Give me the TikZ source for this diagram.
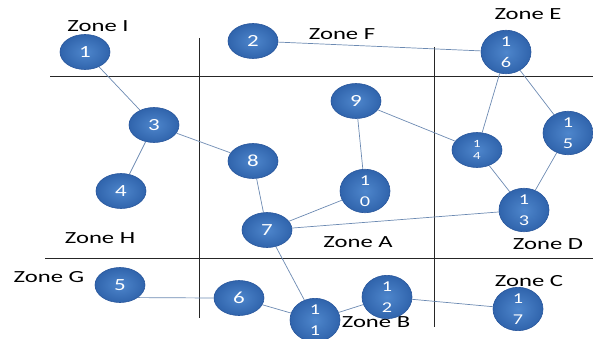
\documentclass[tikz,border=0pt]{standalone}
\usepackage{fontspec}
\setmainfont{Carlito}
\newfontfamily\zonefont[FakeStretch=1.45]{Carlito}
\newfontfamily\numfont[FakeStretch=1.35]{Carlito}
\usetikzlibrary{shapes.geometric}

\definecolor{nodeblue}{RGB}{48,100,172}
\definecolor{nodelight}{RGB}{78,134,204}
\definecolor{noderim}{RGB}{40,86,156}
\definecolor{linkcol}{RGB}{108,138,178}

\tikzset{
  station/.style={ellipse, minimum width=50pt, minimum height=35pt, inner sep=0pt,
    draw=noderim, line width=0.6pt, shading=radial, inner color=nodelight, outer color=nodeblue,
    text=white, align=center, font=\numfont\fontsize{17}{17}\selectfont},
  twodigit/.style={font=\numfont\fontsize{15}{21}\selectfont},
  smalldigit/.style={font=\numfont\fontsize{11}{12}\selectfont},
  zone/.style={text=black, inner sep=0pt, font=\zonefont\fontsize{17}{17}\selectfont},
  divider/.style={draw=black!85, line width=0.8pt},
  link/.style={draw=linkcol, line width=0.7pt}
}

\begin{document}
\begin{tikzpicture}[x=1pt, y=-1pt]
\useasboundingbox (0,0) rectangle (593,339);

% zone dividers
\coordinate (hTopL) at (50,76);   \coordinate (hTopR) at (593,76);
\coordinate (hBotL) at (45,258);  \coordinate (hBotR) at (593,258);
\coordinate (vLeftT) at (199,38); \coordinate (vLeftB) at (199,318);
\coordinate (vRightT) at (434,47);\coordinate (vRightB) at (434,327);
\draw[divider] (hTopL) -- (hTopR);
\draw[divider] (hBotL) -- (hBotR);
\draw[divider] (vLeftT) -- (vLeftB);
\draw[divider] (vRightT) -- (vRightB);

% zone names
\node[zone] (zI) at (98,26) {Zone I};
\node[zone] (zF) at (342,34) {Zone F};
\node[zone] (zE) at (528,14) {Zone E};
\node[zone] (zH) at (100,238) {Zone H};
\node[zone] (zG) at (49,277) {Zone G};
\node[zone] (zA) at (358,242) {Zone A};
\node[zone] (zD) at (548,244) {Zone D};
\node[zone] (zC) at (529,281) {Zone C};
\node[zone] (zB) at (376,322) {Zone B};

% stations
\node[station] (n1) at (85,52) {1};
\node[station] (n2) at (253,41) {2};
\node[station] (n3) at (154,125) {3};
\node[station] (n4) at (121,191) {4};
\node[station] (n5) at (120,285) {5};
\node[station] (n6) at (239,298) {6};
\node[station] (n7) at (267,230) {7};
\node[station] (n8) at (253,161) {8};
\node[station] (n9) at (356,101) {9};
\node[station, twodigit] (n10) at (365,191) {1\\0};
\node[station, twodigit] (n11) at (315,320) {1\\1};
\node[station, twodigit] (n12) at (387,297) {1\\2};
\node[station, twodigit] (n13) at (524,210) {1\\3};
\node[station, smalldigit] (n14) at (477,150) {1\\4};
\node[station, twodigit] (n15) at (568,133) {1\\5};
\node[station, twodigit] (n16) at (506,52) {1\\6};
\node[station, twodigit] (n17) at (518,309) {1\\7};

% links between stations
\draw[link] (n1) -- (n3);
\draw[link] (n3) -- (n4);
\draw[link] (n3) -- (n8);
\draw[link] (n8) -- (n7);
\draw[link] (n7) -- (n10);
\draw[link] (n10) -- (n9);
\draw[link] (n9) -- (n14);
\draw[link] (n14) -- (n16);
\draw[link] (n14) -- (n13);
\draw[link] (n16) -- (n15);
\draw[link] (n15) -- (n13);
\draw[link] (n7) -- (n13);
\draw[link] (n7) -- (n11);
\draw[link] (n11) -- (n12);
\draw[link] (n12) -- (n17);
\draw[link] (n5.south east) -- (n6.west);
\draw[link] (n6) -- (n11);
\draw[link] (n2) -- (n16);
\end{tikzpicture}
\end{document}
